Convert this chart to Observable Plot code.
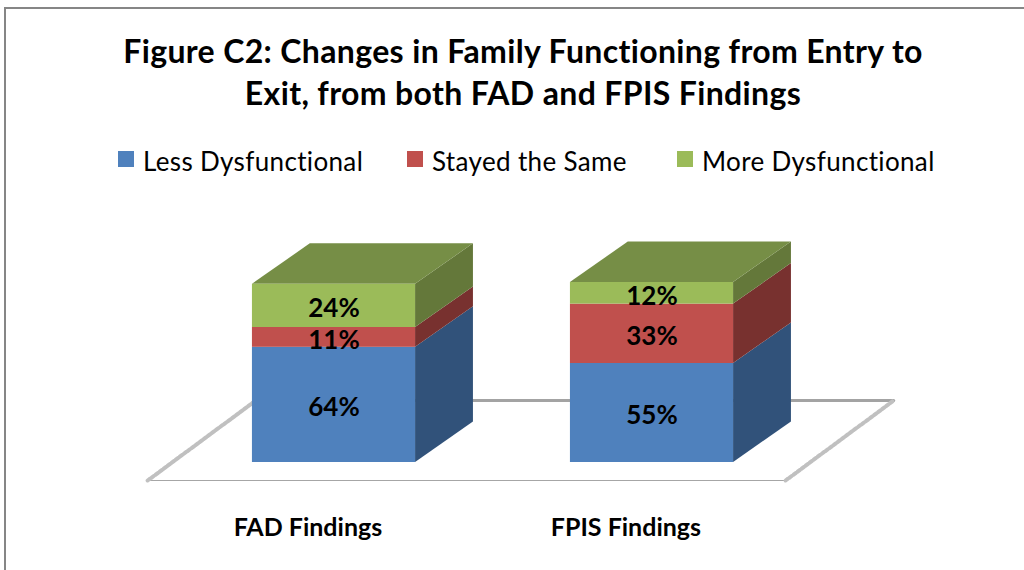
<!DOCTYPE html>
<html>
<head>
<meta charset="utf-8">
<script src="https://cdn.jsdelivr.net/npm/d3@7"></script>
<script src="https://cdn.jsdelivr.net/npm/@observablehq/plot@0.6"></script>
<style>
html,body{margin:0;padding:0;background:#fff;overflow:hidden}
#page{position:relative;width:1024px;height:570px;font-family:Lato,"Open Sans",sans-serif;color:#000;overflow:hidden;font-variant-ligatures:none}
#frame{position:absolute;left:4px;top:7px;width:1040px;height:600px;border:2px solid #868686;box-sizing:border-box}
#title{position:absolute;left:0;top:30px;width:1046px;text-align:center;font-weight:700;font-size:32px;line-height:42px;letter-spacing:.35px}
#legend span{position:absolute;white-space:nowrap}
#legend .sw{width:16px;height:16px;top:151px}
#legend .lb{top:146px;font-size:26px;line-height:30px;letter-spacing:.35px}
#chart{position:absolute;left:0;top:190px}
#chart svg{display:block;background:transparent}
#chart text{font-variant-ligatures:none}
</style>
</head>
<body>
<div id="page">
  <div id="frame"></div>
  <div id="title">Figure C2: Changes in Family Functioning from Entry to<br>Exit, from both FAD and FPIS Findings</div>
  <div id="legend"></div>
  <div id="chart"></div>
</div>
<script>
// ---- data ----
const categories = ["FAD Findings", "FPIS Findings"];
const seriesNames = ["Less Dysfunctional", "Stayed the Same", "More Dysfunctional"];
const lessDysfunctional = [64, 55];
const stayedTheSame = [11, 33];
const moreDysfunctional = [24, 12];
const seriesValues = [lessDysfunctional, stayedTheSame, moreDysfunctional];

// ---- styles ----
const frontColors = ["#4f81bd", "#c0504d", "#9bbb59"];
const sideColors = ["#31527a", "#78312f", "#64783a"];
const topColor = "#768e46";
const legendSwatchX = [118, 407, 677];
const legendTextX = [143, 432, 702];

// ---- oblique projection, in chart units (x: category index, y: percent) ----
const halfWidth = 0.2565;
const depthX = 0.182, depthY = 22.5;
const floorLeft = -0.586, floorRight = 1.42, floorY = -10;
const floorDepthX = 0.34, floorDepthY = 44.4;
const labelShift = -0.082, categoryLabelY = -36.6;

const rects = [], faces = [], labels = [];
categories.forEach((cat, c) => {
  const xl = c - halfWidth, xr = c + halfWidth;
  let base = 0;
  seriesValues.forEach((vals, s) => {
    const top = base + vals[c];
    rects.push({x1: xl, x2: xr, y1: base, y2: top, fill: frontColors[s]});
    const id = `side-${c}-${s}`;
    faces.push(
      {id, x: xr, y1: base, y2: top, fill: sideColors[s]},
      {id, x: xr + depthX, y1: base + depthY, y2: top + depthY, fill: sideColors[s]}
    );
    labels.push({x: c, y: (base + top) / 2, text: vals[c] + "%"});
    base = top;
  });
  const id = `top-${c}`;
  faces.push(
    {id, x: xl, y1: base, y2: base, fill: topColor},
    {id, x: xl + depthX, y1: base, y2: base + depthY, fill: topColor},
    {id, x: xr, y1: base, y2: base + depthY, fill: topColor},
    {id, x: xr + depthX, y1: base + depthY, y2: base + depthY, fill: topColor}
  );
});

const floorDiagonals = [
  {id: "l", x: floorLeft, y: floorY}, {id: "l", x: floorLeft + floorDepthX, y: floorY + floorDepthY},
  {id: "r", x: floorRight, y: floorY}, {id: "r", x: floorRight + floorDepthX, y: floorY + floorDepthY}
];
const floorBack = [
  {x: floorLeft + floorDepthX, y: floorY + floorDepthY}, {x: floorRight + floorDepthX, y: floorY + floorDepthY}
];
const floorFront = [{x: floorLeft, y: floorY}, {x: floorRight, y: floorY}];

const pxPerCat = 318, zeroX = 333.5, pxPerPct = 1.8, zeroY = 272;
const plot = Plot.plot({
  width: 1024, height: 380,
  margin: 0,
  x: {domain: [-zeroX / pxPerCat, (1024 - zeroX) / pxPerCat], range: [0, 1024], axis: null},
  y: {domain: [(zeroY - 380) / pxPerPct, zeroY / pxPerPct], range: [380, 0], axis: null},
  style: {background: "transparent", fontFamily: "Lato, 'Open Sans', sans-serif", color: "#000", overflow: "visible"},
  marks: [
    Plot.line(floorBack, {x: "x", y: "y", stroke: "#a3a3a3", strokeWidth: 3}),
    Plot.line(floorFront, {x: "x", y: "y", stroke: "#a6a6a6", strokeWidth: 1.2}),
    Plot.line(floorDiagonals, {x: "x", y: "y", z: "id", stroke: "#c0c0c0", strokeWidth: 4, strokeDasharray: "3 2"}),
    Plot.area(faces, {x1: "x", y1: "y1", y2: "y2", z: "id", fill: "fill", curve: "linear"}),
    Plot.rect(rects, {x1: "x1", x2: "x2", y1: "y1", y2: "y2", fill: "fill", inset: 0}),
    Plot.text(labels, {x: "x", y: "y", text: "text", dy: 3, fontSize: 26, fontWeight: 700, fill: "#000", style: {letterSpacing: "0.6px"}}),
    Plot.text(categories, {x: (d, i) => i + labelShift, y: () => categoryLabelY, text: d => d, fontSize: 25, fontWeight: 700, fill: "#000"})
  ]
});
document.getElementById("chart").appendChild(plot);

const legend = document.getElementById("legend");
seriesNames.forEach((name, i) => {
  const sw = document.createElement("span");
  sw.className = "sw";
  sw.style.left = legendSwatchX[i] + "px";
  sw.style.background = frontColors[i];
  const lb = document.createElement("span");
  lb.className = "lb";
  lb.style.left = legendTextX[i] + "px";
  lb.textContent = name;
  legend.append(sw, lb);
});
</script>
</body>
</html>
